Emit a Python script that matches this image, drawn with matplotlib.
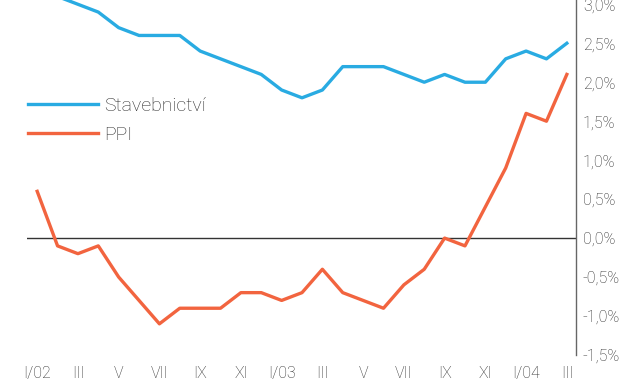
import numpy as np
import matplotlib
matplotlib.use("Agg")
from matplotlib import pyplot as plt

plt.rcParams['font.family'] = ['Roboto', 'DejaVu Sans']
plt.rcParams['font.weight'] = 'light'

# monthly data, I/2002 .. III/2004 (year-on-year change, %)
months = np.arange(27)
stavebnictvi = [3.2, 3.1, 3.0, 2.9, 2.7, 2.6, 2.6, 2.6, 2.4, 2.3, 2.2, 2.1,
                1.9, 1.8, 1.9, 2.2, 2.2, 2.2, 2.1, 2.0, 2.1, 2.0, 2.0, 2.3,
                2.4, 2.3, 2.5]
ppi = [0.6, -0.1, -0.2, -0.1, -0.5, -0.8, -1.1, -0.9, -0.9, -0.9, -0.7, -0.7,
       -0.8, -0.7, -0.4, -0.7, -0.8, -0.9, -0.6, -0.4, 0.0, -0.1, 0.4, 0.9,
       1.6, 1.5, 2.1]
xlabels = ['I/02', 'III', 'V', 'VII', 'IX', 'XI', 'I/03', 'III', 'V', 'VII',
           'IX', 'XI', 'I/04', 'III']
yticks = [-1.5, -1.0, -0.5, 0.0, 0.5, 1.0, 1.5, 2.0, 2.5, 3.0]

blue = '#29abe2'
orange = '#f2643f'
txt = '#2a2a2a'

fig = plt.figure(figsize=(6.25, 3.82), dpi=100)
ax = fig.add_axes([0.0432, 0.0707, 0.8784, 0.9293])

ax.axhline(0, color='#333333', lw=1.0, zorder=1)
ax.plot(months, stavebnictvi, color=blue, lw=2.4, label='Stavebnictví',
        clip_on=False, zorder=3)
ax.plot(months, ppi, color=orange, lw=2.4, label='PPI', clip_on=False, zorder=3)

ax.set_xlim(-0.5, 26.45)
ax.set_ylim(-1.5, 3.055)

ax.set_xticks(months[::2])
ax.set_xticklabels(xlabels)
ax.set_yticks(yticks)
ax.set_yticklabels([('%.1f%%' % v).replace('.', ',') for v in yticks])

ax.yaxis.tick_right()
for s in ['top', 'left', 'bottom']:
    ax.spines[s].set_visible(False)
ax.spines['right'].set_color('#666666')
ax.spines['right'].set_linewidth(1.0)
ax.tick_params(axis='both', length=0, labelsize=11.5, labelcolor=txt)
ax.tick_params(axis='x', pad=8)
ax.tick_params(axis='y', pad=5)

ax.legend(loc='upper left', bbox_to_anchor=(0.045, 0.747),
          bbox_transform=fig.transFigure, frameon=False, fontsize=14,
          handlelength=3.6, handletextpad=0.32, labelspacing=0.56,
          labelcolor=txt, borderaxespad=0, borderpad=0)

fig.savefig('out.png', dpi=100)
